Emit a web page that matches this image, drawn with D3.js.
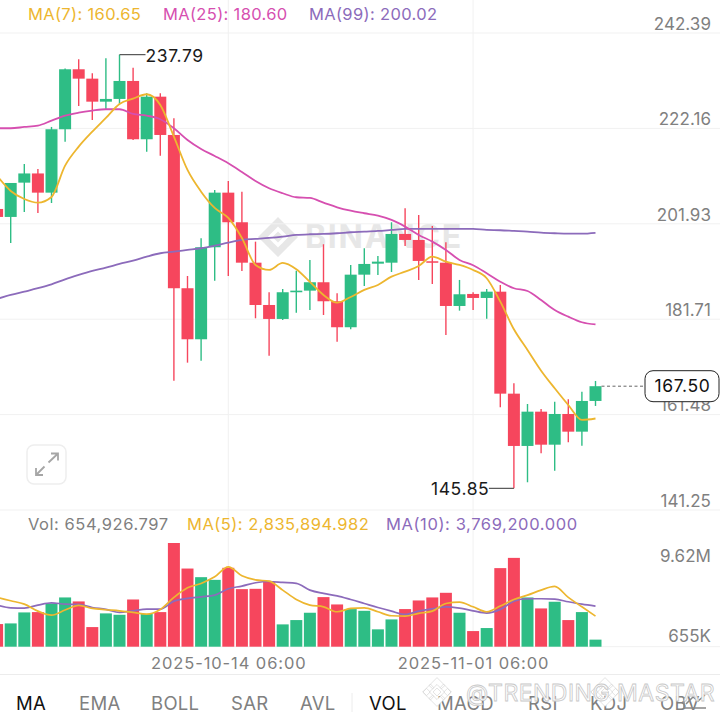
<!DOCTYPE html>
<html><head><meta charset="utf-8">
<script src="https://cdn.jsdelivr.net/npm/d3@7/dist/d3.min.js"></script>
<style>html,body{margin:0;padding:0;background:#fff}svg{display:block}text{font-family:Inter,"Noto Sans",sans-serif}</style>
</head><body><svg id="c" width="720" height="720"></svg>
<script>
// candles, index -1 (clipped at the left edge) .. 43
const opens=[205.08,203.39,210.66,212.61,208.54,221.98,234.70,232.71,227.83,228.41,232.22,219.86,228.89,220.77,188.27,177.45,196.96,208.54,202.26,193.69,184.72,181.76,187.42,187.76,189.54,185.51,180.00,191.15,193.48,193.69,199.78,198.51,193.99,193.69,184.51,187.06,186.21,187.54,165.92,154.83,162.10,155.10,161.61,157.86,164.37];
const highs=[205.5,210.59,214.62,213.56,222.47,234.87,236.83,233.86,237.04,237.79,235.04,229.62,229.62,224.31,190.87,198.87,209.11,211.02,208.75,198.15,187.42,188.12,192.00,194.27,197.60,187.21,193.21,196.75,195.12,202.26,205.23,203.81,201.48,198.02,190.03,187.42,188.12,188.97,168.12,163.73,162.67,164.22,164.73,166.34,168.61];
const lows=[202.9,197.87,204.45,204.23,206.35,219.35,226.92,223.95,226.29,227.35,219.71,217.23,216.38,168.67,172.49,172.91,189.88,190.87,191.93,181.90,173.97,181.54,183.09,183.66,182.60,176.94,179.57,188.75,191.09,191.72,197.24,190.03,189.18,178.36,183.52,183.66,181.82,163.03,145.85,147.13,153.28,149.59,155.61,154.89,163.31];
const closes=[203.39,210.59,212.61,208.54,221.98,234.70,232.71,227.83,228.41,232.22,219.86,228.89,220.77,188.27,177.45,196.96,208.54,202.26,193.69,184.72,181.76,187.42,187.76,189.54,185.51,180.00,191.15,193.42,193.91,199.78,198.51,194.06,193.69,184.51,186.99,186.21,187.54,165.92,154.83,162.10,155.10,161.61,157.86,164.37,167.50];
const ma7=[212.08,208.90,207.20,206.42,207.63,214.26,218.29,221.47,224.38,227.35,228.47,229.40,227.13,220.41,213.35,208.75,205.29,203.17,198.93,193.21,192.15,193.63,192.29,189.60,186.85,185.21,186.42,187.91,188.97,190.73,191.79,192.99,194.97,193.91,193.21,192.15,190.39,185.42,179.57,175.18,170.79,167.06,163.52,160.34,160.65];
const ma25=[222.19,222.19,222.47,222.75,223.81,224.87,225.50,225.93,226.22,226.22,225.23,224.87,224.10,222.19,219.71,217.80,216.32,214.77,212.93,211.02,209.47,208.41,207.56,207.41,206.42,205.44,204.72,204.17,203.66,202.75,201.33,199.57,198.15,196.39,194.27,193.14,191.45,189.66,188.27,187.69,185.78,183.66,182.24,181.06,180.60];
const ma99=[186.00,186.85,187.55,188.27,189.11,190.17,191.09,191.93,192.63,193.42,194.12,194.97,195.69,196.03,196.39,196.75,197.30,197.94,198.51,198.72,198.93,199.21,199.57,199.72,199.78,199.93,200.14,200.27,200.42,200.63,200.84,200.84,200.84,200.84,200.84,200.84,200.63,200.57,200.42,200.27,200.06,199.93,199.84,199.84,200.02];
const volumes=[2.10,2.16,3.18,3.21,4.01,4.57,4.20,1.82,3.09,2.96,4.38,3.03,3.21,9.62,7.25,6.45,6.20,7.32,5.34,5.37,6.02,2.07,2.47,3.15,4.60,3.92,3.49,3.33,1.61,2.53,3.49,4.29,4.57,5.00,3.15,1.45,1.73,7.29,8.24,4.57,3.55,4.17,2.47,3.21,0.655];
const volUp=[0,1,1,0,1,1,0,0,1,1,0,1,0,0,0,1,1,0,0,0,0,1,1,1,0,0,1,1,1,1,0,0,0,0,1,0,1,0,0,1,0,1,0,1,1];
const volMa5=[4.57,4.26,3.95,3.30,2.93,3.40,3.83,3.55,3.43,3.33,3.18,3.03,3.46,4.57,5.46,5.87,6.48,7.41,6.58,6.20,6.08,5.25,4.38,3.86,3.70,3.24,3.55,3.61,3.24,2.87,2.84,3.09,3.30,4.01,4.14,3.70,3.24,3.77,4.38,4.78,5.25,5.59,4.57,3.70,2.836];
const volMa10=[3.86,3.61,3.58,3.86,4.07,3.95,3.92,3.64,3.46,3.18,3.33,3.49,3.49,4.23,4.48,4.63,4.78,5.37,5.62,5.93,6.05,5.96,5.87,5.25,4.94,4.72,4.38,4.01,3.64,3.30,2.99,3.30,3.52,3.70,3.58,3.33,3.12,3.46,4.23,4.45,4.45,4.41,4.17,3.95,3.769];
const priceTicks=[242.39,222.16,201.93,181.71,161.48,141.25];
const volTicks=[9.62,0.655];
const dateTicks=[16,34];
const dateLabels=["2025-10-14 06:00","2025-11-01 06:00"];
const tabs=[["MA",16,1],["EMA",79,0],["BOLL",151,0],["SAR",231,0],["AVL",300,0],["VOL",369,1],["MACD",437,0],["RSI",528,0],["KDJ",590,0],["OBV",660,0]];
const firstIndex=-1;

const RED="#F6465D",GREEN="#2EBD85",YEL="#EDB62F",MAG="#D64FB0",PUR="#8C6BBB",GREY="#808080",GRID="#f1f1f1";
const idx=opens.map((_,i)=>i+firstIndex);
const svg=d3.select("#c");
const x=d3.scaleLinear().domain([-1,43]).range([-2.9,595.5]);
const y=d3.scaleLinear().domain([141.25,242.39]).range([510,33]);
const v=d3.scaleLinear().domain([0,9.62]).range([646.7,543]);

const diamond=d3.range(4).map(k=>{
  const a=k*Math.PI/2,c=Math.cos(a),s=Math.sin(a);const p=(u,w)=>[(u*c-w*s).toFixed(2),(u*s+w*c).toFixed(2)].join(",");
  return "M"+p(0,-20)+"L"+p(11,-9)+"L"+p(6,-4.5)+"L"+p(0,-10.5)+"L"+p(-6,-4.5)+"L"+p(-11,-9)+"Z";}).join("")+"M0,-5.5L5.5,0L0,5.5L-5.5,0Z M-14.5,-5 L-9.5,0 L-14.5,5 L-19.5,0Z M14.5,-5 L19.5,0 L14.5,5 L9.5,0Z";

// watermark
const wm=svg.append("g").attr("fill","#e7e7e7");
wm.append("path").attr("transform","translate(278,237)").attr("d",diamond);
wm.append("text").attr("x",305).attr("y",248).attr("font-size",32).attr("font-weight",700).attr("letter-spacing",1.7).text("BINANCE");

// grid
const gridG=svg.append("g").attr("stroke",GRID).attr("stroke-width",1).attr("fill","none");
gridG.selectAll("line.h").data(priceTicks).join("line").attr("class","h")
 .attr("x1",0).attr("x2",720).attr("y1",d=>y(d)).attr("y2",d=>y(d));
gridG.selectAll("line.d").data(dateTicks).join("line").attr("class","d")
 .attr("x1",d=>x(d)).attr("x2",d=>x(d)).attr("y1",0).attr("y2",646.7);
gridG.append("line").attr("x1",0).attr("x2",720).attr("y1",646.7).attr("y2",646.7);
gridG.append("line").attr("x1",0).attr("x2",720).attr("y1",674.5).attr("y2",674.5).attr("stroke","#ececec");
gridG.append("line").attr("x1",352).attr("x2",352).attr("y1",693).attr("y2",712).attr("stroke","#ececec");

// candles
const col=i=>closes[i]>=opens[i]?GREEN:RED;
const cg=svg.append("g");
cg.selectAll("line").data(idx).join("line")
 .attr("x1",d=>x(d)).attr("x2",d=>x(d))
 .attr("y1",(d,i)=>y(highs[i])).attr("y2",(d,i)=>y(lows[i]))
 .attr("stroke",(d,i)=>col(i)).attr("stroke-width",1.4);
cg.selectAll("rect").data(idx).join("rect")
 .attr("x",d=>x(d)-6).attr("width",12)
 .attr("y",(d,i)=>y(Math.max(opens[i],closes[i])))
 .attr("height",(d,i)=>Math.max(1.5,Math.abs(y(opens[i])-y(closes[i]))))
 .attr("fill",(d,i)=>col(i));

// price lines
const priceLine=d3.line().x((d,i)=>x(i+firstIndex)).y(d=>y(d)).curve(d3.curveMonotoneX);
[[ma99,PUR],[ma25,MAG],[ma7,YEL]].forEach(([a,c])=>svg.append("path").attr("d",priceLine(a)).attr("fill","none").attr("stroke",c).attr("stroke-width",1.8));

// volume
svg.append("g").selectAll("rect").data(idx).join("rect")
 .attr("x",d=>x(d)-6).attr("width",12)
 .attr("y",(d,i)=>v(volumes[i])).attr("height",(d,i)=>v(0)-v(volumes[i]))
 .attr("fill",(d,i)=>volUp[i]?GREEN:RED);
const volLine=d3.line().x((d,i)=>x(i+firstIndex)).y(d=>v(d)).curve(d3.curveMonotoneX);
[[volMa10,PUR],[volMa5,YEL]].forEach(([a,c])=>svg.append("path").attr("d",volLine(a)).attr("fill","none").attr("stroke",c).attr("stroke-width",1.7));

// axes
const pa=svg.append("g").attr("transform","translate(711,0)")
 .call(d3.axisLeft(y).tickValues(priceTicks).tickSize(0).tickFormat(d3.format(".2f")));
pa.select(".domain").remove();
pa.selectAll("text").attr("x",0).attr("dy",-3.8).attr("fill",GREY).attr("font-size",17).attr("letter-spacing",.05).attr("font-family","Inter");
const va=svg.append("g").attr("transform","translate(711,0)")
 .call(d3.axisLeft(v).tickValues(volTicks).tickSize(0).tickFormat(d=>d>=1?d.toFixed(2)+"M":Math.round(d*1000)+"K"));
va.select(".domain").remove();
va.selectAll("text").attr("x",0).attr("dy",(d)=>d>=1?18.5:1.5).attr("fill",GREY).attr("font-size",17).attr("letter-spacing",.05).attr("font-family","Inter");
const da=svg.append("g").attr("transform","translate(0,657)")
 .call(d3.axisBottom(x).tickValues(dateTicks).tickSize(0).tickFormat((d,i)=>dateLabels[i]));
da.select(".domain").remove();
da.selectAll("text").attr("y",0).attr("dy","0.72em").attr("fill",GREY).attr("font-size",16.5).attr("letter-spacing",.9).attr("font-family","Inter");

// legends
const T=(t,xp,yp,c,fs=16.5,ls=.35)=>svg.append("text").attr("x",xp).attr("y",yp).attr("fill",c).attr("font-size",fs).attr("letter-spacing",ls).text(t);
T("MA(7): "+ma7[44].toFixed(2),28,20,YEL);
T("MA(25): "+ma25[44].toFixed(2),163,20,MAG);
T("MA(99): "+ma99[44].toFixed(2),309,20,PUR);
T("Vol: 654,926.797",28,530,GREY,16.5,.55);
T("MA(5): 2,835,894.982",187,530,YEL,16.5,.5);
T("MA(10): 3,769,200.000",386,530,PUR,16.5,.6);

// high / low annotations
const hi=d3.max(highs),lo=d3.min(lows);
const hx=x(idx[highs.indexOf(hi)]),lx=x(idx[lows.indexOf(lo)]);
svg.append("path").attr("d",`M${hx},${y(hi)}H${hx+26}`).attr("stroke","#333").attr("fill","none");
T(hi.toFixed(2),145.5,62,"#1a1a1a",17.5,.6);
svg.append("path").attr("d",`M${lx},${y(lo)}H${lx-25}`).attr("stroke","#333").attr("fill","none");
T(lo.toFixed(2),431,495,"#1a1a1a",17.5,.6);

// current price tag
const last=closes[44];
svg.append("line").attr("x1",x(43)+6).attr("x2",645).attr("y1",y(last)).attr("y2",y(last)).attr("stroke","#666").attr("stroke-dasharray","3 2.5");
svg.append("rect").attr("x",645).attr("y",y(last)-15.5).attr("width",74).attr("height",31).attr("rx",8).attr("fill","#fff").attr("stroke","#222").attr("stroke-width",1);
svg.append("text").attr("x",682.5).attr("y",y(last)+6).attr("text-anchor","middle").attr("fill","#111").attr("font-size",17.5).attr("letter-spacing",.6).text(last.toFixed(2));

// expand icon
svg.append("rect").attr("x",27).attr("y",445).attr("width",39).attr("height",39).attr("rx",7).attr("fill","#fff").attr("stroke","#eeeeee").attr("stroke-width",1.5);
svg.append("path").attr("d","M48.5,462.5L58,453.5M51,453.5H58V460.5M44.5,466.5L36,475M36,468V475H43").attr("fill","none").attr("stroke","#a6a6a6").attr("stroke-width",1.8);

// tabs
tabs.forEach(([t,xp,on])=>T(t,xp,710,on?"#111":GREY,18.5,.3));
svg.append("path").attr("d","M684,708V697M684,708H706M686,704L693,697L698,701L705,695").attr("fill","none").attr("stroke","#888").attr("stroke-width",1.5);
// bottom watermark
[[437,692],[605,692]].forEach(([a,b])=>svg.append("path").attr("transform",`translate(${a},${b}) scale(.72)`).attr("d",diamond).attr("fill","#fff").attr("stroke","#d4d4d4").attr("stroke-width",.9));
svg.append("text").attr("x",466).attr("y",701).attr("font-size",23).attr("fill","#fff").attr("stroke","#c8c8c8").attr("stroke-width",.8).attr("letter-spacing",.5).text("@TRENDING MASTAR");
</script></body></html>
